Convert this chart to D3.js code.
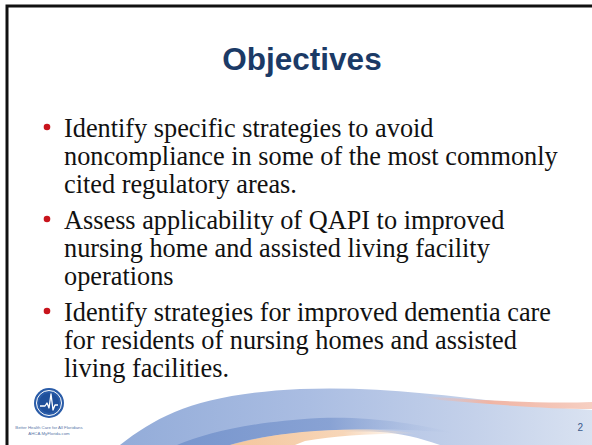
<!DOCTYPE html>
<html>
<head>
<meta charset="utf-8">
<script src="https://cdn.jsdelivr.net/npm/d3@7"></script>
<style>
  body { margin: 0; background: #fff; }
  svg { display: block; }
</style>
</head>
<body>
<div id="slide"></div>
<script>
// slide content
var title = "Objectives";
var bullets = [
  ["Identify specific strategies to avoid",
   "noncompliance in some of the most commonly",
   "cited regulatory areas."],
  ["Assess applicability of QAPI to improved",
   "nursing home and assisted living facility",
   "operations"],
  ["Identify strategies for improved dementia care",
   "for residents of nursing homes and assisted",
   "living facilities."]
];
var footerLines = ["Better Health Care for All Floridians", "AHCA.MyFlorida.com"];
var pageNumber = "2";

var width = 592, height = 445;

var svg = d3.select("#slide")
  .append("svg")
    .attr("width", width)
    .attr("height", height);

var defs = svg.append("defs");

function grad(id, stops) {
  var g = defs.append("linearGradient")
    .attr("id", id)
    .attr("x1", "0%").attr("x2", "100%")
    .attr("y1", "0%").attr("y2", "0%");
  stops.forEach(function(s) {
    g.append("stop").attr("offset", s[0]).attr("stop-color", s[1]).attr("stop-opacity", s[2] == null ? 1 : s[2]);
  });
}
grad("gLight", [["0%", "#93acd9"], ["40%", "#aabde2"], ["75%", "#c4d1ea"], ["100%", "#d9e2f1"]]);
grad("gDark", [["0%", "#7493cc", 0.9], ["55%", "#829dd1", 0.85], ["100%", "#a9bce0", 0]]);
grad("gPeach", [["0%", "#f4c69c"], ["60%", "#f7d6b8"], ["100%", "#fae2cc", 0]]);
grad("gPink", [["0%", "#f2b8aa", 0], ["40%", "#f0b4a4"], ["100%", "#f6cfc2"]]);

// swoosh at the bottom
var swoosh = svg.append("g");

swoosh.append("path")
  .attr("d", "M120,445 C160,414 200,394 300,389 C380,386 450,396 520,404 C550,407 575,409 592,410 L592,445 L440,445 C420,438 400,433 380,432 C330,430 280,436 250,445 Z")
  .attr("fill", "url(#gLight)");

swoosh.append("path")
  .attr("d", "M420,396 C480,400 540,404 592,402 L592,409 C550,409 500,405 440,400 Z")
  .attr("fill", "url(#gPink)");

swoosh.append("path")
  .attr("d", "M177,445 C210,432 250,422 320,418 C370,416 420,424 455,433 C420,430 380,428 340,430 C290,432 250,438 230,445 Z")
  .attr("fill", "url(#gDark)");

swoosh.append("path")
  .attr("d", "M230,445 C270,434 320,428 380,430 C400,431 410,432 418,434 C380,433 340,435 305,441 L295,445 Z")
  .attr("fill", "url(#gPeach)");

// frame
svg.append("path")
  .attr("d", "M7," + height + " L7,6 L" + width + ",6")
  .attr("fill", "none")
  .attr("stroke", "#111")
  .attr("stroke-width", 3);

// title
svg.append("text")
  .attr("x", 302)
  .attr("y", 70)
  .attr("text-anchor", "middle")
  .style("font-family", "'Liberation Sans', Arial, sans-serif")
  .style("font-weight", "bold")
  .style("font-size", "31.5px")
  .style("fill", "#1b3a66")
  .text(title);

// bullets
var lineH = 28, groupGap = 8, y0 = 137;
var y = d3.scaleLinear().domain([0, 1]).range([y0, y0 + lineH]);
var rowIndex = 0;
bullets.forEach(function(lines, bi) {
  var top = y(rowIndex) + bi * groupGap;
  svg.append("circle")
    .attr("cx", 47)
    .attr("cy", top - 10)
    .attr("r", 3.3)
    .style("fill", "#c8141c");
  svg.append("text")
    .attr("x", 64)
    .attr("y", top)
    .style("font-family", "'Liberation Serif', 'Times New Roman', serif")
    .style("font-size", "26.3px")
    .style("fill", "#111")
    .selectAll("tspan")
    .data(lines)
    .enter()
    .append("tspan")
      .attr("x", 64)
      .attr("y", function(d, i) { return top + i * lineH; })
      .text(function(d) { return d; });
  rowIndex += lines.length;
});

// logo
var logo = svg.append("g").attr("transform", "translate(49,403)");
logo.append("circle").attr("r", 15).style("fill", "#2a5ca8");
logo.append("circle").attr("r", 12.5).style("fill", "none").style("stroke", "#fff").style("stroke-width", 1);
logo.append("circle").attr("r", 10).style("fill", "#1f4f9a");
logo.append("path")
  .attr("d", "M-9,3 L-4,3 L-2,0 L0,5 L2,-9 L4,7 L6,2 L9,2")
  .attr("fill", "none")
  .attr("stroke", "#fff")
  .attr("stroke-width", 1.3)
  .attr("stroke-linejoin", "round");

svg.selectAll(".foot")
  .data(footerLines)
  .enter()
  .append("text")
    .attr("class", "foot")
    .attr("x", 49)
    .attr("y", function(d, i) { return 429 + i * 6; })
    .attr("text-anchor", "middle")
    .style("font-family", "'Liberation Sans', Arial, sans-serif")
    .style("font-size", "4.3px")
    .style("fill", "#5a78a8")
    .text(function(d) { return d; });

// page number
svg.append("text")
  .attr("x", 583)
  .attr("y", 431)
  .attr("text-anchor", "end")
  .style("font-family", "'Liberation Sans', Arial, sans-serif")
  .style("font-size", "10px")
  .style("fill", "#3b5a8c")
  .text(pageNumber);
</script>
</body>
</html>
